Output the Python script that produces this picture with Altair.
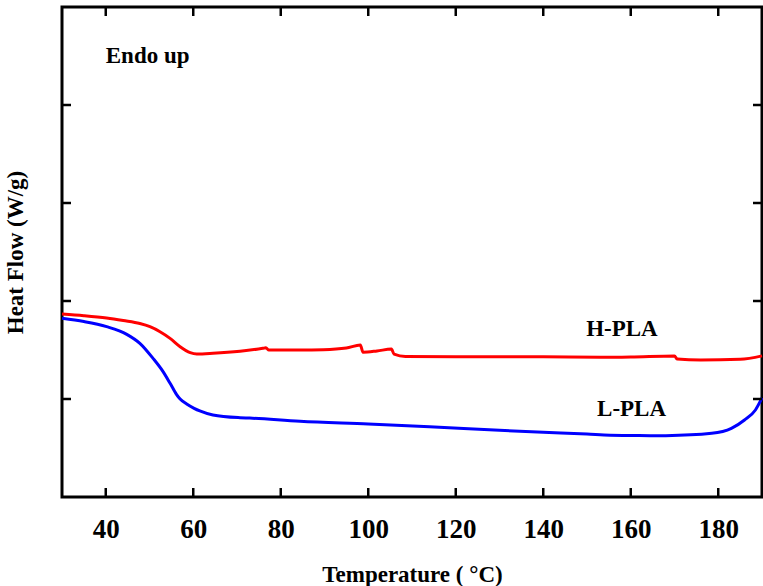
import altair as alt
import pandas as pd

# H-PLA curve (temperature °C, heat flow in axis units)
h_T = [30, 35, 40.2, 44, 47.8, 50.1, 52.4, 54.7, 57, 59.3, 60.8, 64.5, 70.7, 75.9, 76.6, 77.3, 84.4,
       89.7, 95, 98.2, 98.8, 102, 105.3, 105.9, 108.5, 120, 140, 153, 160, 170, 170.6, 176, 185, 190]
h_v = [1.867, 1.85, 1.826, 1.80, 1.77, 1.738, 1.687, 1.619, 1.534, 1.473, 1.459, 1.466, 1.487, 1.517, 1.522, 1.50, 1.50,
       1.503, 1.52, 1.55, 1.477, 1.49, 1.51, 1.457, 1.433, 1.432, 1.43, 1.425, 1.428, 1.439, 1.408, 1.398, 1.405, 1.44]

# L-PLA curve
l_T = [30, 35, 40.2, 44.8, 47.8, 50.8, 53.1, 54.7, 55.6, 56.2, 57, 58.5, 60.2, 61.5, 64.5, 70.7, 72.9, 84.4,
       100, 114, 130, 140, 150, 155.3, 160, 165, 168, 178.5, 183, 186, 188.5, 190]
l_v = [1.823, 1.79, 1.738, 1.66, 1.568, 1.415, 1.279, 1.16, 1.09, 1.045, 1.0, 0.949, 0.905, 0.878, 0.837, 0.809, 0.805, 0.772,
       0.745, 0.717, 0.68, 0.66, 0.642, 0.63, 0.628, 0.625, 0.626, 0.65, 0.70, 0.786, 0.888, 1.01]

x_ticks = [40, 60, 80, 100, 120, 140, 160, 180]
y_ticks = [1, 2, 3, 4]

labels = ["Endo up", "H-PLA", "L-PLA"]
label_T = [40.0, 149.8, 152.3]
label_v = [4.425, 1.646, 0.827]

FONT = "Liberation Serif"

df = pd.concat([
    pd.DataFrame({"T": h_T, "v": h_v, "series": "H-PLA"}),
    pd.DataFrame({"T": l_T, "v": l_v, "series": "L-PLA"}),
])
xt = pd.DataFrame({"T": x_ticks})
yt = pd.DataFrame({"v": y_ticks})
lab = pd.DataFrame({"T": label_T, "v": label_v, "text": labels})

xscale = alt.Scale(domain=[30, 190], nice=False, zero=False)
yscale = alt.Scale(domain=[0, 5], nice=False, zero=False)

x_axis = alt.Axis(
    values=x_ticks, title="Temperature ( °C)", grid=False, domain=False,
    ticks=False, tickSize=0, labelFont=FONT, labelFontSize=27, labelFontWeight="bold",
    labelColor="black", labelPadding=40, labelBaseline="alphabetic", labelFlush=False,
    titleFont=FONT, titleFontSize=23, titleFontWeight="bold", titleColor="black",
    titleBaseline="alphabetic", titleY=84)
y_axis = alt.Axis(
    values=y_ticks, labels=False, ticks=False, tickSize=0, domain=False, grid=False,
    title="Heat Flow (W/g)", titleFont=FONT, titleFontSize=23, titleFontWeight="bold",
    titleColor="black", titleBaseline="alphabetic", titleX=-40, titleY=245, titleAngle=270)

X = alt.X("T:Q", scale=xscale, axis=x_axis)
Y = alt.Y("v:Q", scale=yscale, axis=y_axis)

lines = alt.Chart(df).mark_line(interpolate="monotone", strokeWidth=3).encode(
    x=X, y=Y,
    color=alt.Color("series:N", scale=alt.Scale(domain=["H-PLA", "L-PLA"], range=["#ff0000", "#0000ff"]),
                    legend=None),
    detail="series:N",
)

tick_style = dict(color="black", strokeWidth=2.5)
bottom_ticks = alt.Chart(xt).mark_rule(**tick_style).encode(x=X, y=alt.value(490), y2=alt.value(481))
top_ticks = alt.Chart(xt).mark_rule(**tick_style).encode(x=X, y=alt.value(0), y2=alt.value(9))
left_ticks = alt.Chart(yt).mark_rule(**tick_style).encode(y=Y, x=alt.value(0), x2=alt.value(9))
right_ticks = alt.Chart(yt).mark_rule(**tick_style).encode(y=Y, x=alt.value(700), x2=alt.value(691))

texts = alt.Chart(lab).mark_text(
    font=FONT, fontSize=23, fontWeight="bold", color="black", align="left", baseline="alphabetic"
).encode(x=X, y=Y, text="text:N")

chart = alt.layer(lines, bottom_ticks, top_ticks, left_ticks, right_ticks, texts).properties(
    width=700, height=490,
    autosize=alt.AutoSizeParams(type="none"),
    padding={"left": 62, "top": 7, "right": 1, "bottom": 89},
    background="white",
).configure_view(stroke="black", strokeWidth=3)

chart.save("out.html", embed_options={"renderer": "svg", "actions": False})
